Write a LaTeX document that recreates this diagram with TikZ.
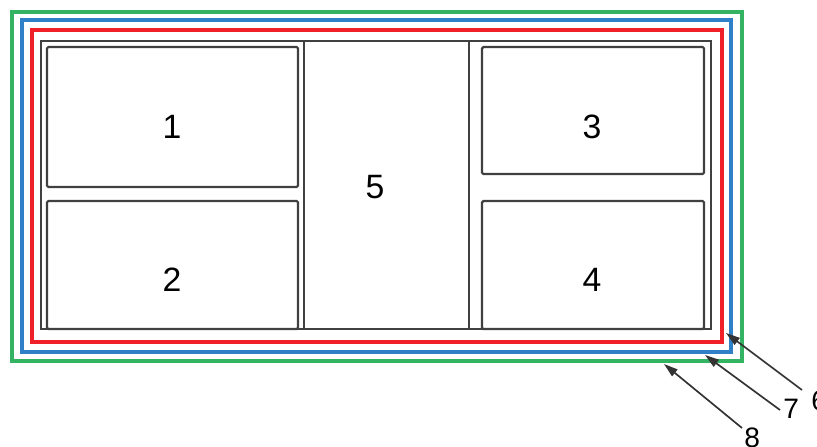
\documentclass[tikz,border=0pt]{standalone}
\usepackage{fontspec}
\setmainfont{Liberation Sans}
\usetikzlibrary{arrows.meta}

\definecolor{ringgreen}{RGB}{52,180,98}
\definecolor{ringblue}{RGB}{48,128,200}
\definecolor{ringred}{RGB}{240,32,40}

\begin{document}
\begin{tikzpicture}[x=0.025cm, y=-0.025cm,
    ring/.style={line width=2.4pt},
    wall/.style={line width=1.6pt, black!75},
    bay/.style={line width=1.6pt, black!75, rounded corners=1pt},
    bay label/.style={font=\fontsize{24}{24}\selectfont},
    tag label/.style={font=\fontsize{20}{20}\selectfont, anchor=west, inner sep=0pt},
    pointer edge/.style={-{Triangle[length=10pt, width=6pt]}, line width=1.2pt, black!80}]

    \useasboundingbox (0,0) rectangle (817,447);

    % Outer rings
    \draw[ring, ringgreen] (12,12) rectangle (742,361);
    \draw[ring, ringblue] (22,20) rectangle (731,352);
    \draw[ring, ringred] (32,30) rectangle (722,342);

    % Black outline and dividers
    \draw[wall] (41,41) rectangle (711,329);
    \draw[wall] (304,41) -- (304,329);
    \draw[wall] (469,41) -- (469,329);

    % Bays
    \draw[bay] (47,47) rectangle (298,187);
    \draw[bay] (47,201) rectangle (298,329);
    \draw[bay] (482,47) rectangle (704,174);
    \draw[bay] (482,201) rectangle (704,329);

    \node[bay label] (b1) at (172,127) {1};
    \node[bay label] (b2) at (172,280) {2};
    \node[bay label] (b3) at (592,127) {3};
    \node[bay label] (b4) at (592,280) {4};
    \node[bay label] (b5) at (375,187) {5};

    % Callouts
    \node[tag label] (t6) at (811,401) {6};
    \node[tag label] (t7) at (783,409) {7};
    \node[tag label] (t8) at (744,438) {8};

    \coordinate (s6) at (802,390);
    \coordinate (s7) at (780,410);
    \coordinate (s8) at (742,428);
    \coordinate (h6) at (726,333);
    \coordinate (h7) at (705,355);
    \coordinate (h8) at (664,364);

    \draw[pointer edge] (s6) -- (h6);
    \draw[pointer edge] (s7) -- (h7);
    \draw[pointer edge] (s8) -- (h8);

\end{tikzpicture}
\end{document}
